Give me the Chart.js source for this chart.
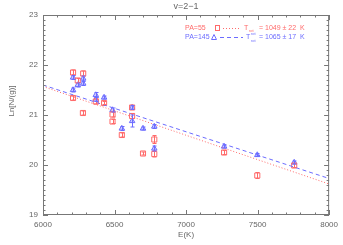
<!DOCTYPE html>
<html>
<head>
<meta charset="utf-8">
<script src="https://cdn.jsdelivr.net/npm/chart.js@4.4.0/dist/chart.umd.min.js"></script>
<style>
  html, body { margin: 0; padding: 0; background: #fff; }
  #wrap { width: 343px; height: 245px; }
</style>
</head>
<body>
<div id="wrap"><canvas id="c"></canvas></div>
<script>
// PA=55 points (squares)
const redE   = [6210, 6281, 6243, 6210, 6279, 6369, 6427, 6486, 6486, 6551, 6623, 6623, 6699, 6778, 6778, 7266, 7498, 7756];
const redLn  = [21.85, 21.83, 21.69, 21.34, 21.04, 21.27, 21.24, 21.01, 20.87, 20.60, 21.15, 20.98, 20.23, 20.51, 20.22, 20.25, 19.79, 19.99];
const redErr = [0.05, 0.05, 0.04, 0.04, 0.04, 0.05, 0.03, 0.05, 0.04, 0.04, 0.04, 0.05, 0.03, 0.08, 0.06, 0.04, 0.06, 0.04];

// PA=145 points (triangles)
const blueE   = [6210, 6243, 6281, 6281, 6210, 6369, 6369, 6427, 6486, 6551, 6623, 6623, 6699, 6778, 6778, 7266, 7498, 7756];
const blueLn  = [21.75, 21.60, 21.73, 21.63, 21.50, 21.40, 21.31, 21.35, 21.10, 20.73, 21.15, 20.88, 20.73, 20.77, 20.33, 20.37, 20.20, 20.05];
const blueErr = [0.04, 0.04, 0.05, 0.04, 0.04, 0.05, 0.04, 0.03, 0.04, 0.04, 0.04, 0.12, 0.03, 0.04, 0.05, 0.03, 0.03, 0.03];

// fitted lines (ends at 6000 and 8000)
const fitE    = [6000, 8000];
const redFit  = [21.57, 19.62];
const blueFit = [21.60, 19.73];

const RED = '#ff6a6a';
const BLUE = '#6c6cff';
const GREY = '#666';
const FONT = '"Liberation Sans", Arial, sans-serif';

const pts = (xs, ys) => xs.map((x, i) => ({ x: x, y: ys[i] }));

// frame, inward ticks, error bars and labels
const extras = {
  id: 'extras',
  afterDatasetsDraw(chart) {
    const ctx = chart.ctx, a = chart.chartArea;
    const xs = chart.scales.x, ys = chart.scales.y;
    ctx.save();

    // error bars
    ctx.lineWidth = 1;
    [[redE, redLn, redErr, RED], [blueE, blueLn, blueErr, BLUE]].forEach(([E, L, R, col]) => {
      ctx.strokeStyle = col;
      E.forEach((e, i) => {
        const px = Math.round(xs.getPixelForValue(e)) + 0.5;
        const y1 = ys.getPixelForValue(L[i] + R[i]);
        const y2 = ys.getPixelForValue(L[i] - R[i]);
        ctx.beginPath();
        ctx.moveTo(px, y1); ctx.lineTo(px, y2);
        ctx.moveTo(px - 2, y1); ctx.lineTo(px + 2, y1);
        ctx.moveTo(px - 2, y2); ctx.lineTo(px + 2, y2);
        ctx.stroke();
      });
    });

    // frame
    ctx.strokeStyle = '#777';
    ctx.lineWidth = 1;
    ctx.strokeRect(a.left + 0.5, a.top + 0.5, a.right - a.left - 1, a.bottom - a.top - 1);

    // ticks
    ctx.beginPath();
    for (let v = 6000; v <= 8000; v += 100) {
      const px = Math.round(xs.getPixelForValue(v)) + 0.5;
      const len = v % 500 === 0 ? 5 : 2.5;
      ctx.moveTo(px, a.bottom); ctx.lineTo(px, a.bottom - len);
      ctx.moveTo(px, a.top); ctx.lineTo(px, a.top + len);
    }
    for (let k = 0; k <= 40; k++) {
      const v = 19 + k * 0.1;
      const py = Math.round(ys.getPixelForValue(v)) + 0.5;
      const len = k % 10 === 0 ? 5 : 2.5;
      ctx.moveTo(a.left, py); ctx.lineTo(a.left + len, py);
      ctx.moveTo(a.right, py); ctx.lineTo(a.right - len, py);
    }
    ctx.stroke();

    // title and axis titles
    ctx.fillStyle = GREY;
    ctx.textAlign = 'center';
    ctx.textBaseline = 'middle';
    ctx.font = '9px ' + FONT;
    ctx.fillText('v=2\u22121', (a.left + a.right) / 2, 7);
    ctx.font = '8px ' + FONT;
    ctx.fillText('E(K)', (a.left + a.right) / 2, 235);
    ctx.save();
    ctx.translate(12, 101);
    ctx.rotate(-Math.PI / 2);
    ctx.fillText('Ln[N/(g)]', 0, 0);
    ctx.restore();

    // legend text
    ctx.textAlign = 'left';
    const big = '7px ' + FONT;
    const small = '4px ' + FONT;

    // line 1
    ctx.font = big;
    ctx.fillStyle = RED; ctx.strokeStyle = RED;
    ctx.fillText('PA=55', 185, 28);
    ctx.strokeRect(215.5, 25.5, 4, 5);
    ctx.setLineDash([1, 2]);
    ctx.beginPath(); ctx.moveTo(223, 28.5); ctx.lineTo(241, 28.5); ctx.stroke();
    ctx.setLineDash([]);
    ctx.fillText('T', 244, 28);
    ctx.font = small; ctx.fillText('rot', 249, 31);
    ctx.font = big;
    ctx.fillText('= 1049 \u00b1 22  K', 259, 28);

    // line 2
    ctx.fillStyle = BLUE; ctx.strokeStyle = BLUE;
    ctx.fillText('PA=145', 185, 37);
    ctx.beginPath(); ctx.moveTo(211.5, 39.5); ctx.lineTo(214, 34.5); ctx.lineTo(216.5, 39.5); ctx.closePath(); ctx.stroke();
    ctx.setLineDash([4, 3]);
    ctx.beginPath(); ctx.moveTo(220, 37.5); ctx.lineTo(243, 37.5); ctx.stroke();
    ctx.setLineDash([]);
    ctx.fillText('T', 246, 37);
    ctx.font = small; ctx.fillText('rot', 251, 34); ctx.fillText('rot', 251, 41);
    ctx.font = big;
    ctx.fillText('= 1065 \u00b1 17  K', 259, 37);

    ctx.restore();
  }
};

new Chart(document.getElementById('c'), {
  type: 'scatter',
  data: {
    datasets: [
      {
        label: 'PA=55 fit',
        type: 'line',
        data: pts(fitE, redFit),
        borderColor: RED,
        borderWidth: 1,
        borderDash: [1, 2],
        pointRadius: 0,
        fill: false
      },
      {
        label: 'PA=145 fit',
        type: 'line',
        data: pts(fitE, blueFit),
        borderColor: BLUE,
        borderWidth: 1,
        borderDash: [4, 3],
        pointRadius: 0,
        fill: false
      },
      {
        label: 'PA=55',
        data: pts(redE, redLn),
        pointStyle: 'rect',
        pointRadius: 3.6,
        borderColor: RED,
        backgroundColor: 'rgba(0,0,0,0)',
        borderWidth: 1
      },
      {
        label: 'PA=145',
        data: pts(blueE, blueLn),
        pointStyle: 'triangle',
        pointRadius: 3.2,
        borderColor: BLUE,
        backgroundColor: 'rgba(108,108,255,0.35)',
        borderWidth: 1
      }
    ]
  },
  options: {
    responsive: true,
    maintainAspectRatio: false,
    animation: false,
    events: [],
    layout: { padding: { top: 15, right: 13, left: 0, bottom: 0 } },
    plugins: { legend: { display: false }, tooltip: { enabled: false } },
    scales: {
      x: {
        min: 6000, max: 8000,
        grid: { display: false, drawTicks: false },
        border: { display: false },
        ticks: {
          stepSize: 500, color: GREY, font: { size: 8, family: FONT }, padding: 5, maxRotation: 0,
          callback: v => String(v)
        },
        afterFit(s) { s.height = 30; }
      },
      y: {
        min: 19, max: 23,
        grid: { display: false, drawTicks: false },
        border: { display: false },
        ticks: { stepSize: 1, color: GREY, font: { size: 8, family: FONT }, padding: 5 },
        afterFit(s) { s.width = 43; }
      }
    }
  },
  plugins: [extras]
});
</script>
</body>
</html>
